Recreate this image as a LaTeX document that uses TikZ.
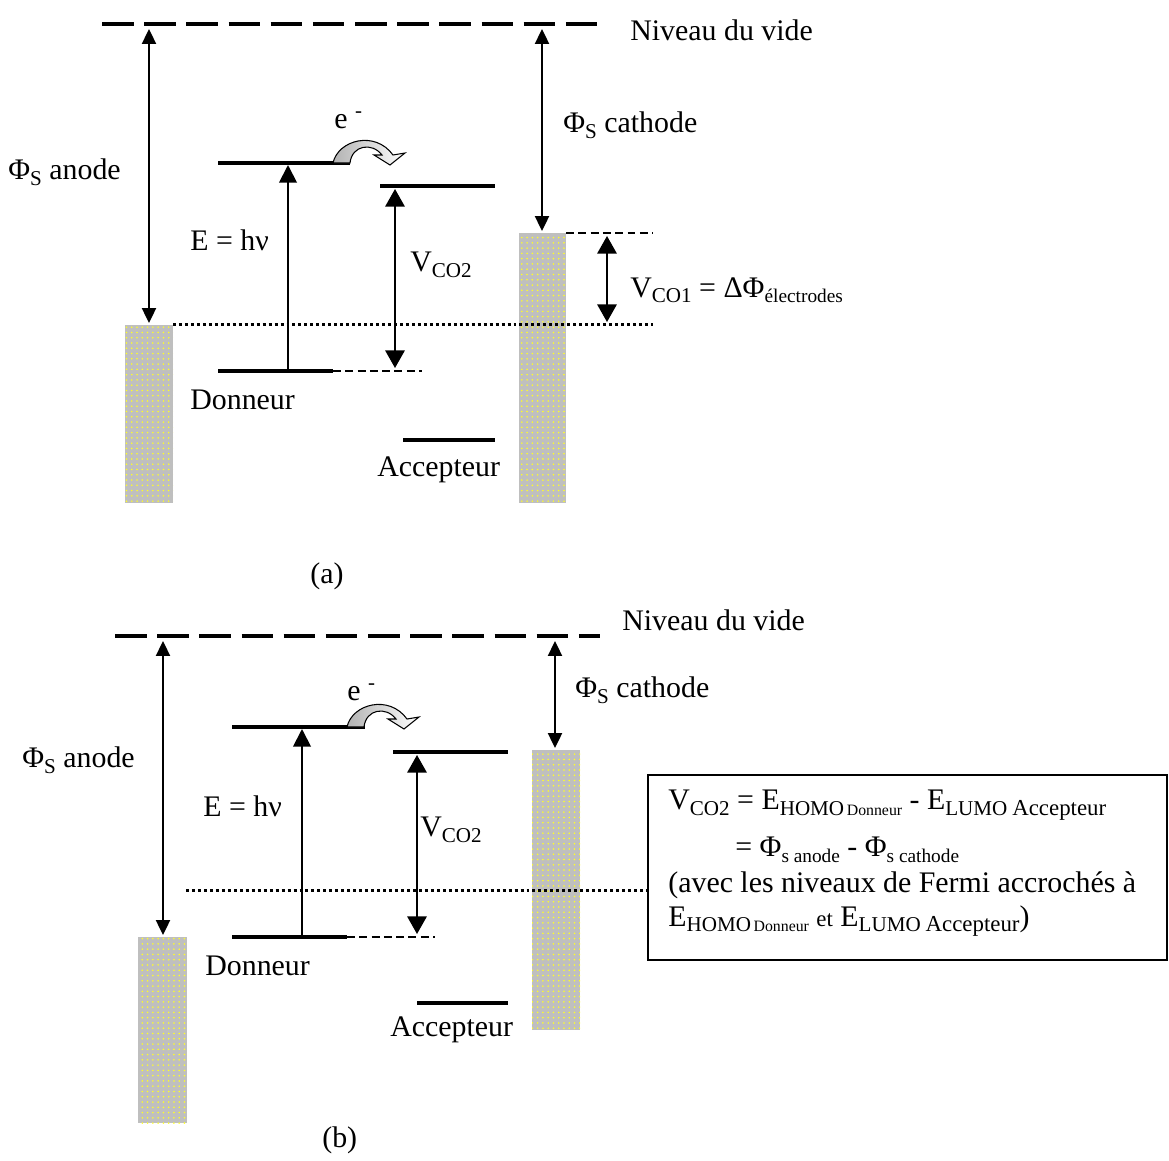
\documentclass[tikz,border=0pt]{standalone}
\usepackage{fontspec}
\setmainfont{Liberation Serif}
\usetikzlibrary{arrows.meta,patterns}
\tikzset{>=latex}
\usepackage{xcolor}
\colorlet{metal}{gray!50}
\colorlet{metaldot}{yellow!85}
\newcommand\lowsub[1]{\raisebox{-0.4ex}{\fontsize{12}{13}\selectfont #1}}
\newcommand\midsub[1]{\raisebox{-0.4ex}{\fontsize{11}{12}\selectfont #1}}
\newcommand\tinysub[1]{\raisebox{-0.4ex}{\fontsize{9}{10}\selectfont #1}}
\tikzstyle{txt}=[inner sep=0pt,anchor=west,font=\fontsize{17}{20}\selectfont]
\tikzstyle{electrode}=[fill=metal,postaction={pattern=dots,pattern color=metaldot}]
\tikzstyle{orbital}=[line width=2pt]
\tikzstyle{vide}=[line width=2.3pt,dash pattern=on 18pt off 6pt]
\tikzstyle{fermi}=[line width=1.7pt,dash pattern=on 1.7pt off 1.7pt]
\tikzstyle{guide}=[line width=0.9pt,dash pattern=on 4.5pt off 2.5pt]
\tikzstyle{bigarrow}=[line width=1.1pt,{Triangle[length=10pt,width=11pt]}-{Triangle[length=10pt,width=11pt]}]
\tikzstyle{phiarrow}=[line width=1.1pt,{Triangle[length=8.5pt,width=8pt]}-{Triangle[length=8.5pt,width=8pt]}]
\tikzstyle{uparrow}=[line width=1.1pt,-{Triangle[length=10pt,width=10pt]}]
\tikzstyle{ejump}=[line width=0.6pt,draw=black,left color=gray!60,right color=white]
\def\eJump#1{%
  \draw[ejump,shift={#1}] (0,0) .. controls (5,-23) and (42,-33) .. (60,-8)
    -- (72,-10) -- (57,2) -- (41,-8) -- (49,-8)
    .. controls (39,-21) and (19,-18) .. (17,0) -- cycle;}

\begin{document}
\begin{tikzpicture}[x=0.02cm,y=-0.02cm]
  \useasboundingbox (0,0) rectangle (1169,1160);

  % ---------------- (a) ----------------
  \coordinate (vacA-W)   at ( 102,  24); % NIVEAU DU VIDE
  \coordinate (vacA-E)   at ( 600,  24);
  \coordinate (anA-NW)   at ( 125, 325); % ANODE
  \coordinate (anA-SE)   at ( 173, 503);
  \coordinate (caA-NW)   at ( 519, 233); % CATHODE
  \coordinate (caA-SE)   at ( 566, 503);
  \coordinate (caA-X)    at ( 653, 233);
  \coordinate (fermiA-W) at ( 173, 324); % FERMI
  \coordinate (fermiA-E) at ( 653, 324);
  \coordinate (lumoD-W)  at ( 218, 163); % DONNEUR
  \coordinate (lumoD-E)  at ( 350, 163);
  \coordinate (homoD-W)  at ( 218, 371);
  \coordinate (homoD-E)  at ( 333, 371);
  \coordinate (homoD-X)  at ( 422, 371);
  \coordinate (lumoA-W)  at ( 380, 186); % ACCEPTEUR
  \coordinate (lumoA-E)  at ( 495, 186);
  \coordinate (homoA-W)  at ( 403, 440);
  \coordinate (homoA-E)  at ( 495, 440);
  \coordinate (phiAn-N)  at ( 149,  29); % FLECHES
  \coordinate (phiAn-S)  at ( 149, 323);
  \coordinate (phiCa-N)  at ( 542,  29);
  \coordinate (phiCa-S)  at ( 542, 231);
  \coordinate (hnu-S)    at ( 288, 371);
  \coordinate (hnu-N)    at ( 288, 165);
  \coordinate (vco2-N)   at ( 395, 189);
  \coordinate (vco2-S)   at ( 395, 368);
  \coordinate (vco1-N)   at ( 607, 236);
  \coordinate (vco1-S)   at ( 607, 322);

  \fill[electrode] (anA-NW) rectangle (anA-SE);
  \fill[electrode] (caA-NW) rectangle (caA-SE);
  \draw[vide] (vacA-W) -- (vacA-E);
  \draw[fermi] (fermiA-W) -- (fermiA-E);
  \draw[guide] (caA-SE |- caA-NW) -- (caA-X);
  \draw[orbital] (lumoD-W) -- (lumoD-E);
  \draw[orbital] (homoD-W) -- (homoD-E);
  \draw[guide] (homoD-E) -- (homoD-X);
  \draw[orbital] (lumoA-W) -- (lumoA-E);
  \draw[orbital] (homoA-W) -- (homoA-E);
  \draw[phiarrow] (phiAn-N) -- (phiAn-S);
  \draw[phiarrow] (phiCa-N) -- (phiCa-S);
  \draw[uparrow] (hnu-S) -- (hnu-N);
  \draw[bigarrow] (vco2-N) -- (vco2-S);
  \draw[bigarrow] (vco1-N) -- (vco1-S);
  \eJump{(333,163)}

  \node[txt] (videA)  at (630,  30) {Niveau du vide};
  \node[txt] (phiAnA) at (  8, 172) {Φ\lowsub{S} anode};
  \node[txt] (phiCaA) at (563, 125) {Φ\lowsub{S} cathode};
  \node[txt] (eA)     at (334, 120) {e \textsuperscript{-}};
  \node[txt] (hnuA)   at (190, 240) {E = hν};
  \node[txt] (vco2A)  at (410, 265) {V\lowsub{CO2}};
  \node[txt] (vco1A)  at (630, 290) {V\lowsub{CO1} = ΔΦ\midsub{électrodes}};
  \node[txt] (donA)   at (190, 400) {Donneur};
  \node[txt] (accA)   at (377, 470) {Accepteur};
  \node[txt] (capA)   at (310, 576) {(a)};

  % ---------------- (b) ----------------
  \coordinate (vacB-W)   at ( 115, 636); % NIVEAU DU VIDE
  \coordinate (vacB-E)   at ( 600, 636);
  \coordinate (anB-NW)   at ( 138, 937); % ANODE
  \coordinate (anB-SE)   at ( 187,1123);
  \coordinate (caB-NW)   at ( 532, 750); % CATHODE
  \coordinate (caB-SE)   at ( 580,1030);
  \coordinate (fermiB-W) at ( 186, 890); % FERMI
  \coordinate (fermiB-E) at ( 646, 890);
  \coordinate (lumoDB-W) at ( 232, 727); % DONNEUR
  \coordinate (lumoDB-E) at ( 365, 727);
  \coordinate (homoDB-W) at ( 232, 937);
  \coordinate (homoDB-E) at ( 347, 937);
  \coordinate (homoDB-X) at ( 435, 937);
  \coordinate (lumoAB-W) at ( 393, 752); % ACCEPTEUR
  \coordinate (lumoAB-E) at ( 508, 752);
  \coordinate (homoAB-W) at ( 417,1003);
  \coordinate (homoAB-E) at ( 508,1003);
  \coordinate (phiAnB-N) at ( 163, 641); % FLECHES
  \coordinate (phiAnB-S) at ( 163, 935);
  \coordinate (phiCaB-N) at ( 555, 641);
  \coordinate (phiCaB-S) at ( 555, 748);
  \coordinate (hnuB-S)   at ( 302, 937);
  \coordinate (hnuB-N)   at ( 302, 729);
  \coordinate (vco2B-N)  at ( 417, 755);
  \coordinate (vco2B-S)  at ( 417, 934);
  \coordinate (boxB-NW)  at ( 648, 775); % ENCADRE
  \coordinate (boxB-SE)  at (1167, 960);

  \fill[electrode] (anB-NW) rectangle (anB-SE);
  \fill[electrode] (caB-NW) rectangle (caB-SE);
  \draw[vide] (vacB-W) -- (vacB-E);
  \draw[fermi] (fermiB-W) -- (fermiB-E);
  \draw[orbital] (lumoDB-W) -- (lumoDB-E);
  \draw[orbital] (homoDB-W) -- (homoDB-E);
  \draw[guide] (homoDB-E) -- (homoDB-X);
  \draw[orbital] (lumoAB-W) -- (lumoAB-E);
  \draw[orbital] (homoAB-W) -- (homoAB-E);
  \draw[phiarrow] (phiAnB-N) -- (phiAnB-S);
  \draw[phiarrow] (phiCaB-N) -- (phiCaB-S);
  \draw[uparrow] (hnuB-S) -- (hnuB-N);
  \draw[bigarrow] (vco2B-N) -- (vco2B-S);
  \eJump{(347,727)}
  \draw[line width=0.8pt] (boxB-NW) rectangle (boxB-SE);

  \node[txt] (videB)  at (622, 620) {Niveau du vide};
  \node[txt] (phiAnB) at ( 22, 760) {Φ\lowsub{S} anode};
  \node[txt] (phiCaB) at (575, 690) {Φ\lowsub{S} cathode};
  \node[txt] (eB)     at (347, 692) {e \textsuperscript{-}};
  \node[txt] (hnuB)   at (203, 806) {E = hν};
  \node[txt] (vco2B)  at (420, 830) {V\lowsub{CO2}};
  \node[txt] (donB)   at (205, 966) {Donneur};
  \node[txt] (accB)   at (390,1030) {Accepteur};
  \node[txt] (capB)   at (322,1140) {(b)};

  \node[txt] (box1) at (668, 805) {V\lowsub{CO2} = E\lowsub{HOMO}\tinysub{\,Donneur} - E\lowsub{LUMO}\,\lowsub{\fontsize{13}{14}\selectfont Accepteur}};
  \node[txt] (box2) at (735, 850) {= Φ\midsub{s anode} - Φ\midsub{s cathode}};
  \node[txt] (box3) at (668, 885) {(avec les niveaux de Fermi accrochés à};
  \node[txt] (box4) at (668, 921) {E\lowsub{HOMO}\tinysub{\,Donneur} {\fontsize{13}{14}\selectfont et} E\lowsub{LUMO}\,\lowsub{\fontsize{13}{14}\selectfont Accepteur})};
\end{tikzpicture}
\end{document}
